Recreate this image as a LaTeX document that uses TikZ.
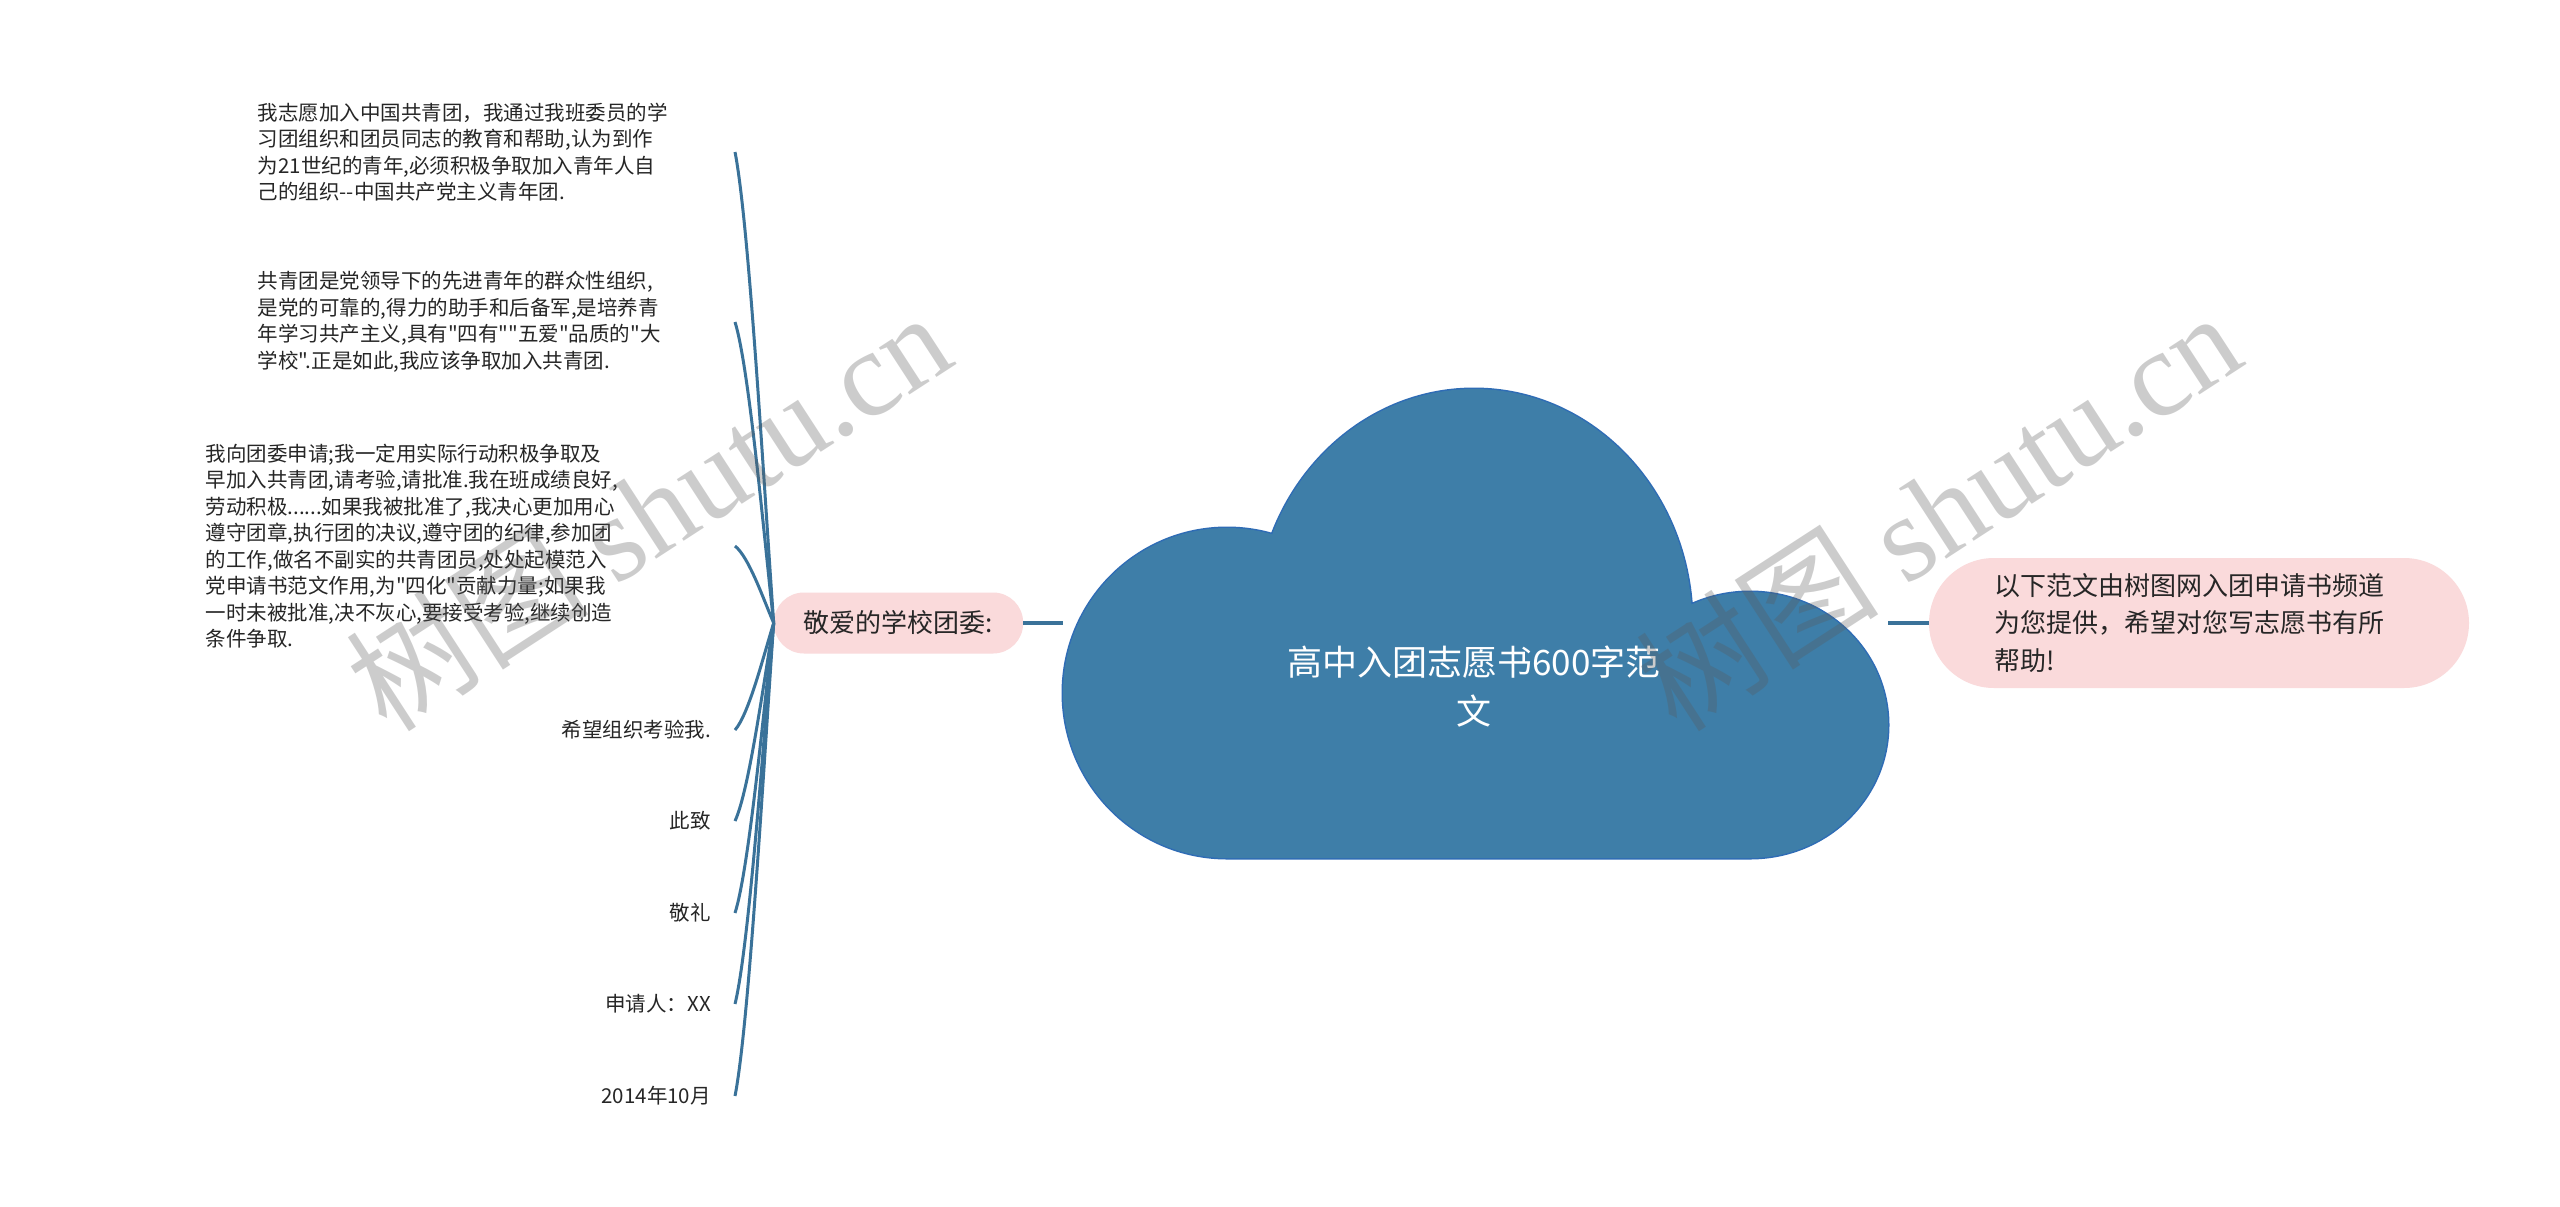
\documentclass[tikz,border=0pt]{standalone}
\usepackage{fontspec}
\setmainfont{Noto Sans CJK SC}[Ligatures=TeXOff]
\newfontfamily\wmserif{Liberation Serif}
\usetikzlibrary{positioning}

\definecolor{cloudblue}{HTML}{3E7EA8}
\definecolor{cloudedge}{HTML}{2F6CB5}
\definecolor{linkblue}{HTML}{3A7299}
\definecolor{pinkfill}{HTML}{FADADB}
\definecolor{inkgray}{HTML}{262626}

\begin{document}
\begin{tikzpicture}[
  x=1pt, y=-1pt,
  pill/.style={fill=pinkfill, text=inkgray, inner ysep=0pt},
  leaf/.style={anchor=east, inner xsep=24pt, inner ysep=0pt, text=inkgray, font=\fontsize{20.5}{26.5}\selectfont},
  para/.style={leaf, align=left},
  link/.style={draw=linkblue, line width=3.5pt},
  branch/.style={draw=linkblue, line width=3pt},
  wmark/.style={rotate=33, text=black!65, text opacity=0.3, font=\fontsize{122}{122}\selectfont}
]
\useasboundingbox (0,0) rectangle (2560,1207);
\fill[white] (0,0) rectangle (2560,1207);

% cloud: outline pass, then fill pass
\path[draw=cloudedge, line width=3pt] (1227,693) ellipse [x radius=164pt, y radius=165pt]
  (1474,623) ellipse [x radius=218pt, y radius=234pt]
  (1750,725) ellipse [x radius=138pt, y radius=133pt]
  (1227,693) rectangle (1750,858);
\fill[cloudblue] (1227,693) ellipse [x radius=164pt, y radius=165pt]
  (1474,623) ellipse [x radius=218pt, y radius=234pt]
  (1750,725) ellipse [x radius=138pt, y radius=133pt]
  (1227,693) rectangle (1750,858);
\coordinate (cloudW) at (1063,623);
\coordinate (cloudE) at (1888,623);
\node[text=white, align=center, font=\fontsize{35}{49}\selectfont] (title) at (1474,687) {高中入团志愿书600字范\\文};

\node[pill, rounded corners=30pt, minimum height=61pt, inner xsep=30pt, font=\fontsize{26}{32}\selectfont] (lp) at (898.5,623) {敬爱的学校团委:};
\node[pill, rounded corners=65pt, minimum height=130pt, inner xsep=65pt, text width=410pt, align=left, font=\fontsize{26}{37.6}\selectfont] (rp) at (2199,623) {以下范文由树图网入团申请书频道\\为您提供，希望对您写志愿书有所\\帮助!};

\node[para, text width=453pt] (t1) at (735,152) {我志愿加入中国共青团，我通过我班委员的学\\习团组织和团员同志的教育和帮助,认为到作\\为21世纪的青年,必须积极争取加入青年人自\\己的组织--中国共产党主义青年团.};
\node[para, text width=453pt] (t2) at (735,322) {共青团是党领导下的先进青年的群众性组织,\\是党的可靠的,得力的助手和后备军,是培养青\\年学习共产主义,具有"四有""五爱"品质的"大\\学校".正是如此,我应该争取加入共青团.};
\node[para, text width=505pt] (t3) at (735,546) {我向团委申请;我一定用实际行动积极争取及\\早加入共青团,请考验,请批准.我在班成绩良好,\\劳动积极......如果我被批准了,我决心更加用心\\遵守团章,执行团的决议,遵守团的纪律,参加团\\的工作,做名不副实的共青团员,处处起模范入\\党申请书范文作用,为"四化"贡献力量;如果我\\一时未被批准,决不灰心,要接受考验,继续创造\\条件争取.};
\node[leaf] (t4) at (735,730) {希望组织考验我.};
\node[leaf] (t5) at (735,821) {此致};
\node[leaf] (t6) at (735,913) {敬礼};
\node[leaf] (t7) at (735,1004) {申请人：XX};
\node[leaf] (t8) at (735,1096) {2014年10月};

\draw[link] (lp.east) -- (cloudW);
\draw[link] (cloudE) -- (rp.west);
\draw[branch] (lp.west) .. controls +(-10,-141) and +(14,71) .. (t1.east);
\draw[branch] (lp.west) .. controls +(-10,-90) and +(14,45) .. (t2.east);
\draw[branch] (lp.west) .. controls +(-10,-23) and +(14,11) .. (t3.east);
\draw[branch] (lp.west) .. controls +(-10,32) and +(14,-16) .. (t4.east);
\draw[branch] (lp.west) .. controls +(-10,59) and +(14,-30) .. (t5.east);
\draw[branch] (lp.west) .. controls +(-10,87) and +(14,-44) .. (t6.east);
\draw[branch] (lp.west) .. controls +(-10,114) and +(14,-57) .. (t7.east);
\draw[branch] (lp.west) .. controls +(-10,142) and +(14,-71) .. (t8.east);

% watermark
\node[wmark] (wmL) at (648,510) {树图 {\wmserif shutu.cn}};
\node[wmark] (wmR) at (1938,510) {树图 {\wmserif shutu.cn}};
\end{tikzpicture}
\end{document}
